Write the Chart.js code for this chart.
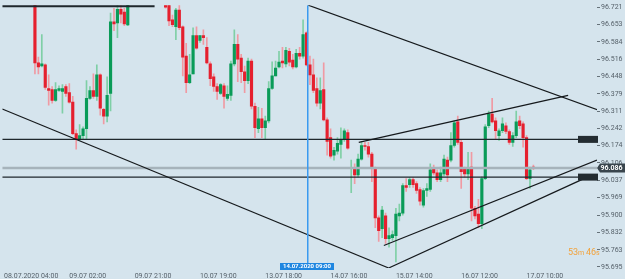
<!DOCTYPE html>
<html>
<head>
<meta charset="utf-8">
<script src="https://cdn.jsdelivr.net/npm/chart.js@4.4.1/dist/chart.umd.min.js"></script>
<style>
  html, body { margin: 0; padding: 0; background: #d5e4ed; }
  #contenedor { width: 625px; height: 279px; position: relative; }
</style>
</head>
<body>
<div id="contenedor"><canvas id="graficoVelas"></canvas></div>
<script>
// Datos de velas H1 (null = fuera de la vista)
const totalBarras = 173;

const aperturas = [
  null, null, null, null, null, null, null, null, null,
  96.768, 96.501, 96.489, 96.493, 96.400, 96.396, 96.353, 96.392, 96.388, 96.408,
  96.384, 96.346, 96.222, 96.199, 96.214, 96.241, 96.361, 96.392, 96.369, 96.454,
  96.318, 96.291, 96.381, 96.663, 96.659, 96.713, 96.702, 96.651,
  null, null, null, null, null, null, null, null, null, null,
  96.760, 96.733, 96.671, 96.644, 96.710, 96.644, 96.528, 96.423, 96.458, 96.609,
  96.590, 96.609, 96.563, 96.497, 96.446, 96.408, 96.381, 96.411, 96.361, 96.373,
  96.497, 96.574, 96.520, 96.466, 96.431, 96.508, 96.330, 96.241, 96.280, 96.245,
  96.272, 96.400, 96.450, 96.485, 96.508, 96.497, 96.547, 96.512, 96.485, 96.539,
  96.528, 96.620, 96.493, 96.454, 96.400, 96.342, 96.396, 96.276, 96.206, 96.137,
  96.152, 96.179, 96.199, 96.226, 96.083, 96.083, 96.059, 96.121, 96.175, 96.171,
  96.141, 96.083, 95.889, 95.846, 95.897, 95.807, 95.811, 95.819, 95.897, 95.908,
  96.017, 96.020, 96.040, 96.024, 96.001, 95.939, 95.997, 96.001, 96.083, 96.067,
  96.040, 96.063, 96.117, 96.117, 96.175, 96.268, 96.187, 96.083, 96.063, 96.090,
  95.927, 95.904, 95.866, 96.044, 96.253, 96.299, 96.272, 96.214, 96.233, 96.253,
  96.230, 96.187, 96.214, 96.272, 96.260, 96.206, 96.044, 96.090
];
const maximos = [
  null, null, null, null, null, null, null, null, null,
  96.787, 96.524, 96.613, 96.497, 96.454, 96.408, 96.423, 96.411, 96.415, 96.415,
  96.419, 96.369, 96.237, 96.257, 96.249, 96.431, 96.408, 96.458, 96.493, 96.458,
  96.322, 96.446, 96.698, 96.717, 96.737, 96.737, 96.717, 96.760,
  null, null, null, null, null, null, null, null, null, null,
  96.770, 96.745, 96.690, 96.717, 96.729, 96.648, 96.578, 96.535, 96.640, 96.644,
  96.609, 96.632, 96.601, 96.505, 96.458, 96.419, 96.419, 96.419, 96.411, 96.508,
  96.632, 96.613, 96.535, 96.489, 96.520, 96.516, 96.342, 96.326, 96.322, 96.291,
  96.427, 96.505, 96.508, 96.547, 96.563, 96.563, 96.559, 96.535, 96.555, 96.563,
  96.671, 96.624, 96.528, 96.516, 96.442, 96.442, 96.501, 96.284, 96.241, 96.168,
  96.206, 96.245, 96.241, 96.237, 96.117, 96.102, 96.141, 96.191, 96.187, 96.187,
  96.148, 96.090, 95.897, 95.935, 95.908, 95.850, 95.838, 95.927, 95.943, 96.024,
  96.044, 96.048, 96.048, 96.032, 96.009, 96.005, 96.024, 96.102, 96.098, 96.079,
  96.090, 96.137, 96.129, 96.226, 96.272, 96.291, 96.195, 96.090, 96.148, 96.148,
  95.935, 95.962, 96.051, 96.257, 96.311, 96.361, 96.284, 96.241, 96.284, 96.264,
  96.237, 96.226, 96.311, 96.291, 96.268, 96.214, 96.090, 96.098
];
const minimos = [
  null, null, null, null, null, null, null, null, null,
  96.458, 96.458, 96.485, 96.396, 96.334, 96.342, 96.349, 96.388, 96.303, 96.369,
  96.342, 96.218, 96.160, 96.195, 96.199, 96.199, 96.357, 96.361, 96.353, 96.295,
  96.260, 96.268, 96.311, 96.628, 96.601, 96.659, 96.648, 96.648,
  null, null, null, null, null, null, null, null, null, null,
  96.717, 96.648, 96.644, 96.593, 96.632, 96.450, 96.384, 96.419, 96.458, 96.555,
  96.582, 96.574, 96.497, 96.411, 96.388, 96.357, 96.377, 96.322, 96.353, 96.353,
  96.489, 96.427, 96.423, 96.384, 96.419, 96.319, 96.206, 96.226, 96.206, 96.199,
  96.264, 96.396, 96.450, 96.481, 96.481, 96.485, 96.489, 96.477, 96.481, 96.516,
  96.520, 96.489, 96.415, 96.384, 96.330, 96.319, 96.272, 96.137, 96.125, 96.117,
  96.141, 96.125, 96.191, 96.160, 95.989, 96.024, 96.051, 96.117, 96.156, 96.129,
  96.032, 95.850, 95.796, 95.811, 95.788, 95.773, 95.800, 95.715, 95.877, 95.900,
  95.993, 96.009, 96.009, 95.986, 95.939, 95.931, 95.974, 95.993, 96.059, 96.032,
  96.032, 96.055, 96.032, 96.110, 96.168, 96.179, 96.005, 96.051, 96.040, 95.877,
  95.885, 95.850, 95.846, 96.040, 96.245, 96.264, 96.199, 96.195, 96.226, 96.222,
  96.179, 96.171, 96.206, 96.241, 96.168, 96.040, 96.005, 96.079
];
const cierres = [
  null, null, null, null, null, null, null, null, null,
  96.501, 96.485, 96.497, 96.404, 96.392, 96.353, 96.396, 96.400, 96.400, 96.381,
  96.346, 96.222, 96.199, 96.214, 96.241, 96.361, 96.392, 96.369, 96.454, 96.322,
  96.291, 96.373, 96.663, 96.655, 96.713, 96.694, 96.655, 96.745,
  null, null, null, null, null, null, null, null, null, null,
  96.721, 96.667, 96.652, 96.710, 96.640, 96.524, 96.423, 96.454, 96.609, 96.559,
  96.609, 96.601, 96.501, 96.439, 96.408, 96.388, 96.415, 96.369, 96.377, 96.497,
  96.574, 96.516, 96.466, 96.431, 96.508, 96.330, 96.245, 96.280, 96.245, 96.272,
  96.400, 96.450, 96.481, 96.504, 96.501, 96.551, 96.504, 96.485, 96.539, 96.528,
  96.613, 96.493, 96.454, 96.392, 96.342, 96.392, 96.276, 96.191, 96.133, 96.156,
  96.183, 96.199, 96.233, 96.164, 96.087, 96.059, 96.121, 96.175, 96.171, 96.141,
  96.083, 95.889, 95.838, 95.920, 95.807, 95.819, 95.823, 95.904, 95.908, 96.017,
  96.009, 96.040, 96.020, 95.997, 95.955, 95.997, 96.005, 96.079, 96.067, 96.040,
  96.067, 96.121, 96.059, 96.175, 96.264, 96.187, 96.071, 96.063, 96.083, 95.927,
  95.897, 95.866, 96.044, 96.249, 96.299, 96.268, 96.233, 96.233, 96.260, 96.230,
  96.187, 96.214, 96.268, 96.253, 96.206, 96.044, 96.079, 96.086
];

// Etiquetas de los ejes
const etiquetasX = ['08.07.2020 04:00', '09.07 02:00', '09.07 21:00', '10.07 19:00', '13.07 18:00',
  '14.07 16:00', '15.07 14:00', '16.07 12:00', '17.07 10:00'];
const barrasPorEtiqueta = 19;
const ticksY = [96.721, 96.653, 96.584, 96.516, 96.448, 96.379, 96.311, 96.242, 96.174,
  96.106, 96.037, 95.969, 95.900, 95.832, 95.763, 95.695];
const precioMin = 95.691;
const precioMax = 96.729;

// Objetos dibujados: [barra inicio, precio, barra fin, precio]
const lineasTendencia = [
  [-0.5, 96.319, 111.9, 95.691],
  [111.9, 95.691, 168.7, 96.044],
  [110.5, 95.780, 172.5, 96.117],
  [103.2, 96.187, 164.1, 96.373],
  [88.5, 96.729, 172.8, 96.315]
];
// lineas horizontales: [precio, barra inicio, barra fin]
const lineasHorizontales = [
  [96.725, -0.5, 43.8],
  [96.199, -0.5, 172.5],
  [96.050, -0.5, 172.5]
];
const precioActual = 96.086;
const barraCursor = 88;
const textoCursor = '14.07.2020 09:00';
const cuentaAtras = ['53', 'm ', '46', 's'];

while (aperturas.length < totalBarras) {
  aperturas.push(null); maximos.push(null); minimos.push(null); cierres.push(null);
}

const categorias = Array.from({ length: totalBarras }, (_, i) =>
  i % barrasPorEtiqueta === 0 ? (etiquetasX[i / barrasPorEtiqueta] || '') : '');

const sube = aperturas.map((o, i) => o !== null && cierres[i] >= o);
const mechas = minimos.map((l, i) => l === null ? null : [l, maximos[i]]);
const cuerpos = aperturas.map((o, i) => o === null ? null : [o, cierres[i]]);

const verde = '#0a9b58';
const rojo = '#e5202e';
const verdeClaro = '#7fcfa6';
const rojoClaro = '#f09aa3';
const fuente = 'Roboto, "DejaVu Sans", sans-serif';

const dibujos = {
  id: 'dibujos',
  beforeDraw(chart) {
    const c = chart.ctx;
    c.save();
    c.fillStyle = '#d5e4ed';
    c.fillRect(0, 0, chart.width, chart.height);
    c.restore();
  },
  afterDatasetsDraw(chart) {
    const c = chart.ctx;
    const a = chart.chartArea;
    const x = chart.scales.x;
    const y = chart.scales.y;

    c.save();
    c.beginPath();
    c.rect(a.left, a.top, a.right - a.left, a.bottom - a.top);
    c.clip();

    // linea de precio actual
    c.strokeStyle = '#a6b3bb';
    c.lineWidth = 2.5;
    c.beginPath();
    c.moveTo(a.left, y.getPixelForValue(precioActual));
    c.lineTo(a.right, y.getPixelForValue(precioActual));
    c.stroke();

    // horizontales
    c.strokeStyle = '#1f272c';
    lineasHorizontales.forEach((h, k) => {
      c.lineWidth = k === 0 ? 2.2 : 1.3;
      const py = y.getPixelForValue(h[0]);
      c.beginPath();
      c.moveTo(x.getPixelForValue(h[1]), py);
      c.lineTo(x.getPixelForValue(h[2]), py);
      c.stroke();
    });

    // tendencias
    c.strokeStyle = '#15191c';
    c.lineWidth = 1.2;
    lineasTendencia.forEach(t => {
      c.beginPath();
      c.moveTo(x.getPixelForValue(t[0]), y.getPixelForValue(t[1]));
      c.lineTo(x.getPixelForValue(t[2]), y.getPixelForValue(t[3]));
      c.stroke();
    });

    // cursor vertical
    const cx = Math.round(x.getPixelForValue(barraCursor));
    c.fillStyle = '#3a9af0';
    c.fillRect(cx, a.top, 1.5, a.bottom - a.top);
    c.restore();

    c.save();
    // cajas de las horizontales en el eje
    c.fillStyle = '#232c31';
    lineasHorizontales.slice(1).forEach(h => {
      const py = y.getPixelForValue(h[0]);
      c.fillRect(a.right - 19, py - 3.5, 20, 7);
    });

    // etiqueta precio actual
    const pa = y.getPixelForValue(precioActual);
    c.fillStyle = '#39454d';
    c.beginPath();
    c.moveTo(a.right, pa);
    c.lineTo(a.right + 3, pa - 4.5);
    c.lineTo(chart.width, pa - 4.5);
    c.lineTo(chart.width, pa + 4.5);
    c.lineTo(a.right + 3, pa + 4.5);
    c.closePath();
    c.fill();
    c.fillStyle = '#ffffff';
    c.font = 'bold 7px ' + fuente;
    c.textBaseline = 'middle';
    c.textAlign = 'left';
    c.fillText(precioActual.toFixed(3), a.right + 3.5, pa + 0.5);

    // etiqueta del cursor
    c.fillStyle = '#1f86e0';
    c.fillRect(cx - 27, a.bottom - 5, 54, 7);
    c.fillStyle = '#ffffff';
    c.font = 'bold 6px ' + fuente;
    c.textAlign = 'center';
    c.fillText(textoCursor, cx, a.bottom - 1.3);

    // cuenta atras
    c.fillStyle = '#f2a23a';
    c.textAlign = 'left';
    c.textBaseline = 'alphabetic';
    let tx = a.right - 29;
    cuentaAtras.forEach((s, k) => {
      c.font = (k % 2 === 0 ? '9px ' : '7px ') + fuente;
      c.fillText(s, tx, 255);
      tx += c.measureText(s).width;
    });
    c.restore();
  }
};

new Chart(document.getElementById('graficoVelas').getContext('2d'), {
  type: 'bar',
  data: {
    labels: categorias,
    datasets: [
      {
        label: 'mechas',
        data: mechas,
        backgroundColor: sube.map(s => s ? verdeClaro : rojoClaro),
        barThickness: 1,
        grouped: false,
        order: 2
      },
      {
        label: 'cuerpos',
        data: cuerpos,
        backgroundColor: sube.map(s => s ? verde : rojo),
        barThickness: 2.5,
        minBarLength: 1,
        grouped: false,
        order: 1
      }
    ]
  },
  options: {
    responsive: true,
    maintainAspectRatio: false,
    animation: false,
    layout: { padding: 0 },
    plugins: { legend: { display: false }, tooltip: { enabled: false } },
    scales: {
      x: {
        offset: true,
        grid: { display: false, drawTicks: false },
        border: { display: false },
        ticks: {
          autoSkip: false, maxRotation: 0, minRotation: 0, align: 'start', padding: 4,
          color: '#56616a', font: { size: 7, family: fuente }
        },
        afterFit: s => { s.height = 11; }
      },
      y: {
        position: 'right',
        min: precioMin,
        max: precioMax,
        grid: { drawOnChartArea: false, drawTicks: true, tickLength: 3, color: '#66727a' },
        border: { display: false },
        afterBuildTicks: s => { s.ticks = ticksY.map(v => ({ value: v })); },
        ticks: {
          padding: 1, color: '#56616a',
          font: { size: 7, family: fuente },
          callback: v => Number(v).toFixed(3)
        },
        afterFit: s => { s.width = 28; }
      }
    }
  },
  plugins: [dibujos]
});
</script>
</body>
</html>
